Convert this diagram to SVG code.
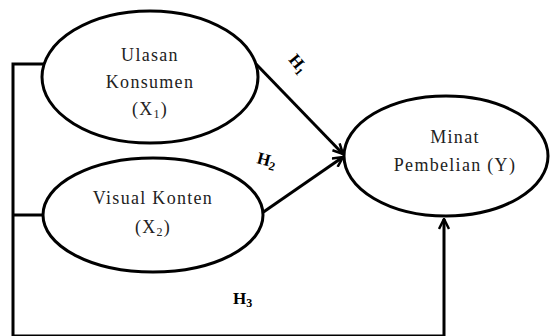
<svg xmlns="http://www.w3.org/2000/svg" width="556" height="336" viewBox="0 0 556 336">
<defs>
<style>
.node{fill:#fff;stroke:#000;stroke-width:3}
.t{font-family:"Liberation Serif","Times New Roman",serif;font-size:18px;letter-spacing:1.3px;fill:#222;text-anchor:middle}
.h{font-family:"Liberation Serif","Times New Roman",serif;font-size:17px;font-weight:bold;fill:#000}
.c{fill:none;stroke:#000;stroke-width:3}
</style>
<marker id="arr" viewBox="0 0 12 12" refX="11" refY="6" markerWidth="12" markerHeight="12" markerUnits="userSpaceOnUse" orient="auto">
<path d="M1,1 L11,6 L1,11" fill="none" stroke="#000" stroke-width="2.5"/>
</marker>
</defs>
<rect width="556" height="336" fill="#fff"/>
<g id="connectors">
<polyline class="c" points="44,64 13,64 13,336 444,336 444,219" marker-end="url(#arr)"/>
<line class="c" x1="13" y1="215" x2="45" y2="215"/>
<line class="c" x1="256" y1="64" x2="343" y2="154" marker-end="url(#arr)"/>
<line class="c" x1="262" y1="213" x2="343" y2="157" marker-end="url(#arr)"/>
<text class="h" transform="translate(288,60) rotate(50)">H<tspan font-size="11" dy="3">1</tspan></text>
<text class="h" transform="translate(256,163) rotate(15)">H<tspan font-size="12" dy="3">2</tspan></text>
<text class="h" x="233" y="304">H<tspan font-size="12" dy="3">3</tspan></text>
</g>
<g id="X1">
<ellipse class="node" cx="150" cy="77" rx="108" ry="66"/>
<text class="t" x="150" y="61">Ulasan</text>
<text class="t" x="150" y="88">Konsumen</text>
<text class="t" x="150" y="115">(X<tspan font-size="12" dy="3">1</tspan><tspan dy="-3">)</tspan></text>
</g>
<g id="X2">
<ellipse class="node" cx="153" cy="215" rx="110" ry="57"/>
<text class="t" x="153" y="204">Visual Konten</text>
<text class="t" x="153" y="233">(X<tspan font-size="12" dy="3">2</tspan><tspan dy="-3">)</tspan></text>
</g>
<g id="Y">
<ellipse class="node" cx="446" cy="156" rx="102" ry="60"/>
<text class="t" x="455" y="143">Minat</text>
<text class="t" x="455" y="171">Pembelian (Y)</text>
</g>
</svg>
